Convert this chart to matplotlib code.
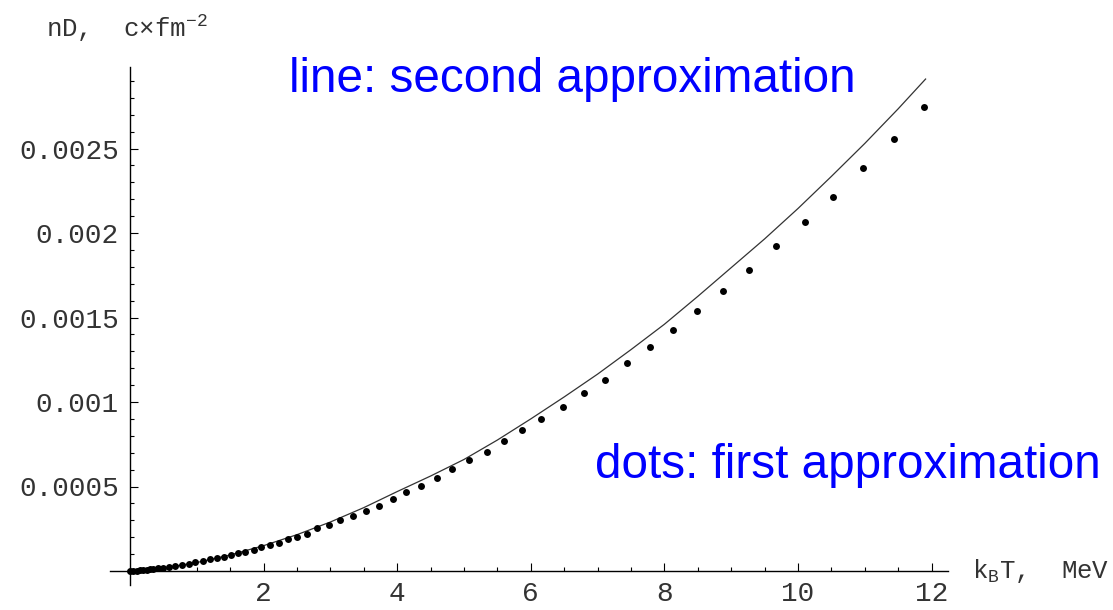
import matplotlib
matplotlib.use("Agg")
import matplotlib.pyplot as plt
from matplotlib.ticker import MultipleLocator, FixedLocator, FixedFormatter

# ---- data ----
# dots: first approximation  (k_B T in MeV, nD in c*fm^-2)
dots_T = [0.0, 0.05, 0.10, 0.15, 0.20, 0.25, 0.30, 0.35, 0.42, 0.50, 0.58, 0.68,
          0.78, 0.88, 0.98, 1.10, 1.20, 1.30, 1.40, 1.51, 1.62, 1.72, 1.85,
          1.96, 2.10, 2.23, 2.36, 2.50, 2.65, 2.80, 2.98, 3.15, 3.34, 3.53,
          3.73, 3.93, 4.13, 4.36, 4.59, 4.82, 5.07, 5.34, 5.60, 5.87, 6.16,
          6.48, 6.80, 7.11, 7.44, 7.78, 8.13, 8.49, 8.87, 9.27, 9.67, 10.10,
          10.53, 10.98, 11.43, 11.89]
dots_n = [0.0, 0.0005, 0.0015, 0.003, 0.005, 0.007, 0.009, 0.012, 0.016, 0.020,
          0.025, 0.030, 0.034, 0.041, 0.051, 0.059, 0.069, 0.077, 0.085, 0.095,
          0.105, 0.114, 0.124, 0.140, 0.154, 0.167, 0.188, 0.203, 0.219, 0.253,
          0.272, 0.302, 0.325, 0.355, 0.386, 0.424, 0.466, 0.503, 0.552, 0.602,
          0.657, 0.706, 0.771, 0.833, 0.901, 0.972, 1.051, 1.130, 1.229, 1.327,
          1.426, 1.540, 1.657, 1.781, 1.921, 2.063, 2.215, 2.383, 2.558, 2.746]
dots_n = [v * 1e-3 for v in dots_n]

# line: second approximation
line_T = [0.0, 0.5, 1.0, 1.5, 2.0, 2.5, 3.0, 3.5, 4.0, 4.5, 5.0, 5.5, 6.0,
          6.5, 7.0, 7.5, 8.0, 8.5, 9.0, 9.5, 10.0, 10.5, 11.0, 11.5, 11.91]
line_n = [0.0, 0.018, 0.050, 0.095, 0.150, 0.215, 0.290, 0.375, 0.470, 0.562,
          0.660, 0.775, 0.900, 1.030, 1.165, 1.310, 1.460, 1.625, 1.795, 1.965,
          2.145, 2.335, 2.530, 2.735, 2.911]
line_n = [v * 1e-3 for v in line_n]

x_ticks = [2, 4, 6, 8, 10, 12]
x_ticklabels = ["2", "4", "6", "8", "10", "12"]
y_ticks = [0.0005, 0.001, 0.0015, 0.002, 0.0025]
y_ticklabels = ["0.0005", "0.001", "0.0015", "0.002", "0.0025"]

# ---- figure ----
plt.rcParams['mathtext.fontset'] = 'custom'
plt.rcParams['mathtext.rm'] = 'Liberation Mono'
plt.rcParams['mathtext.it'] = 'Liberation Mono'

W, H = 1113, 610
fig = plt.figure(figsize=(W / 100, H / 100), dpi=100)
fig.patch.set_facecolor("white")

xmin, xmax = -0.3, 12.25
ymin, ymax = -0.00008, 0.00298
x0px, xs = 130.0, 66.8       # pixel of x=0, px per unit
y0px, ys = 571.0, 169000.0   # pixel of y=0, px per unit
left = (x0px + xmin * xs) / W
right = (x0px + xmax * xs) / W
top = (y0px - ymax * ys)
bottom = (y0px - ymin * ys)
ax = fig.add_axes([left, (H - bottom) / H, right - left, (bottom - top) / H])
ax.set_xlim(xmin, xmax)
ax.set_ylim(ymin, ymax)

ax.plot(line_T, line_n, color="#333333", lw=0.9, solid_joinstyle="round")
ax.plot(dots_T, dots_n, linestyle="none", marker="o", ms=5.0, color="black",
        markeredgewidth=0)

for s in ["top", "right"]:
    ax.spines[s].set_visible(False)
ax.spines["left"].set_position(("data", 0))
ax.spines["bottom"].set_position(("data", 0))
for s in ["left", "bottom"]:
    ax.spines[s].set_linewidth(1.0)
    ax.spines[s].set_color("black")

ax.xaxis.set_major_locator(FixedLocator(x_ticks))
ax.xaxis.set_major_formatter(FixedFormatter(x_ticklabels))
ax.xaxis.set_minor_locator(MultipleLocator(0.5))
ax.yaxis.set_major_locator(FixedLocator(y_ticks))
ax.yaxis.set_major_formatter(FixedFormatter(y_ticklabels))
ax.yaxis.set_minor_locator(MultipleLocator(0.0001))

ax.tick_params(which="major", direction="in", length=5.5, width=0.8, color="black",
               labelsize=20, labelcolor="#333333")
ax.tick_params(which="minor", direction="in", length=3, width=0.8, color="black")
ax.tick_params(axis="x", which="major", pad=7)
ax.tick_params(axis="y", which="major", pad=8)
for lab in ax.get_xticklabels() + ax.get_yticklabels():
    lab.set_fontfamily("Liberation Mono")

# axis labels
fig.text(46 / W, (H - 37) / H, "nD,  c×fm$^{-2}$", family="Liberation Mono",
         fontsize=18.5, color="#333333", ha="left", va="baseline")
fig.text(972 / W, (H - 578) / H, "k$_{\\mathrm{B}}$T,  MeV", family="Liberation Mono",
         fontsize=18.5, color="#333333", ha="left", va="baseline")

# annotations
fig.text(289 / W, (H - 92) / H, "line: second approximation", family="Liberation Sans",
         fontsize=34.3, color="#0000ff", ha="left", va="baseline")
fig.text(595 / W, (H - 478) / H, "dots: first approximation", family="Liberation Sans",
         fontsize=34.3, color="#0000ff", ha="left", va="baseline")

fig.savefig("out.png", dpi=100, facecolor="white")
